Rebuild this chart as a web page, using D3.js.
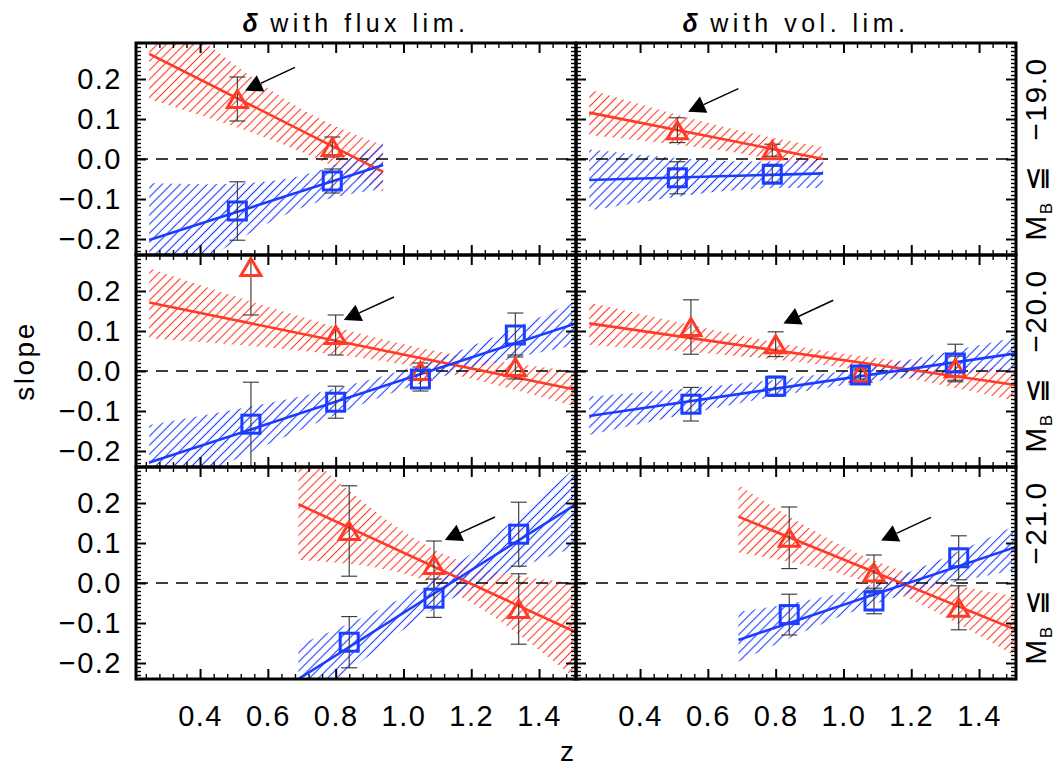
<!DOCTYPE html>
<html><head><meta charset="utf-8">
<script src="https://cdn.jsdelivr.net/npm/d3@7"></script>
<style>body{margin:0;background:#fff}svg{display:block}</style>
</head><body>
<svg id="c" width="1058" height="766"></svg>
<script>
// ---------------- data ----------------
const zDomain = [0.211, 1.509];
const slopeDomain = [-0.24, 0.29];
const xTickValues = [0.4, 0.6, 0.8, 1.0, 1.2, 1.4];
const yTickValues = [-0.2, -0.1, 0.0, 0.1, 0.2];
const columnTitles = ["with flux lim.", "with vol. lim."];
const magLimits = ["\u221219.0", "\u221220.0", "\u221221.0"];
const xLabel = "z";
const yLabel = "slope";

const zBins = [[0.51, 0.79], [0.55, 0.80, 1.05, 1.33], [0.84, 1.09, 1.34]];
// flux-limited (left column)
const fluxRed     = [[0.15, 0.03], [0.26, 0.09, 0.0, 0.01], [0.13, 0.045, -0.065]];
const fluxRedErr  = [[0.055, 0.025], [0.12, 0.05, 0.02, 0.03], [0.113, 0.06, 0.088]];
const fluxBlue    = [[-0.13, -0.055], [-0.133, -0.078, -0.02, 0.09], [-0.148, -0.038, 0.122]];
const fluxBlueErr = [[0.073, 0.03], [0.105, 0.04, 0.03, 0.055], [0.064, 0.048, 0.08]];
// volume-limited (right column)
const volRed      = [[0.072, 0.022], [0.11, 0.067, -0.005, 0.007], [0.113, 0.026, -0.062]];
const volRedErr   = [[0.031, 0.015], [0.068, 0.031, 0.015, 0.03], [0.077, 0.044, 0.055]];
const volBlue     = [[-0.047, -0.038], [-0.083, -0.038, -0.01, 0.02], [-0.079, -0.045, 0.063]];
const volBlueErr  = [[0.04, 0.02], [0.042, 0.025, 0.015, 0.047], [0.051, 0.032, 0.055]];

// linear fits (end points)
const fitZ = [[0.25, 0.94], [0.25, 1.509], [0.69, 1.509]];
const fluxRedFit  = [[0.263, -0.032], [0.171, -0.047], [0.197, -0.123]];
const fluxBlueFit = [[-0.2025, -0.015], [-0.229, 0.119], [-0.24, 0.197]];
const volRedFit   = [[0.116, 0.0], [0.119, -0.035], [0.166, -0.117]];
const volBlueFit  = [[-0.0525, -0.036], [-0.1125, 0.044], [-0.1425, 0.09]];

// confidence bands
const bandZ = [[0.25, 0.65, 0.94], [0.25, 0.95, 1.509], [0.69, 1.1, 1.509]];
const fluxRedHi  = [[0.40, 0.15, 0.035], [0.257, 0.077, 0.0], [0.34, 0.08, 0.0]];
const fluxRedLo  = [[0.15, 0.035, -0.082], [0.082, 0.023, -0.09], [0.0575, -0.006, -0.24]];
const fluxBlueHi = [[-0.06, -0.05, 0.042], [-0.135, -0.01, 0.175], [-0.155, 0.015, 0.29]];
const fluxBlueLo = [[-0.345, -0.14, -0.075], [-0.323, -0.06, 0.065], [-0.33, -0.06, 0.09]];
const volRedHi   = [[0.174, 0.08, 0.03], [0.171, 0.05, 0.005], [0.245, 0.053, -0.034]];
const volRedLo   = [[0.06, 0.02, -0.028], [0.065, 0.014, -0.075], [0.076, -0.007, -0.184]];
const volBlueHi  = [[0.024, -0.005, 0.0], [-0.064, -0.006, 0.085], [-0.0725, 0.0, 0.145]];
const volBlueLo  = [[-0.129, -0.08, -0.073], [-0.16, -0.042, 0.0025], [-0.197, -0.05, 0.0325]];

// arrows (z, slope) per [row][col]
const arrowTip  = [[[0.533, 0.171], [0.542, 0.118]], [[0.824, 0.1275], [0.823, 0.119]], [[1.122, 0.1075], [1.111, 0.106]]];
const arrowTail = [[[0.680, 0.229], [0.690, 0.176]], [[0.972, 0.185], [0.970, 0.177]], [[1.270, 0.165], [1.258, 0.164]]];

// ---------------- layout / style ----------------
const RED = "#ff3a26", BLUE = "#1c3cff";
const FONT = "'Liberation Sans', Arial, Helvetica, sans-serif";
const colLeft = [136, 576], rowTop = [43, 255, 467], PW = 440, PH = 212;

const svg = d3.select("#c");
const defs = svg.append("defs");
[["hatchR", RED], ["hatchB", BLUE]].forEach(([id, col]) => {
  const p = defs.append("pattern").attr("id", id).attr("patternUnits", "userSpaceOnUse")
    .attr("width", 6.4).attr("height", 6.4).attr("patternTransform", "rotate(45)");
  p.append("line").attr("x1", 3.2).attr("x2", 3.2).attr("y1", -1).attr("y2", 8)
    .attr("stroke", col).attr("stroke-width", 1.1);
});

const x = d3.scaleLinear().domain(zDomain).range([0, PW]);
const y = d3.scaleLinear().domain(slopeDomain).range([PH, 0]);

const xMinor = d3.range(6, 38).filter(i => i % 5 !== 0).map(i => i * 0.04);
const yMinor = d3.range(-24, 30).filter(i => i % 10 !== 0).map(i => i / 100);

const cols = [
  {red: fluxRed, redErr: fluxRedErr, blue: fluxBlue, blueErr: fluxBlueErr,
   redFit: fluxRedFit, blueFit: fluxBlueFit, redHi: fluxRedHi, redLo: fluxRedLo, blueHi: fluxBlueHi, blueLo: fluxBlueLo},
  {red: volRed, redErr: volRedErr, blue: volBlue, blueErr: volBlueErr,
   redFit: volRedFit, blueFit: volBlueFit, redHi: volRedHi, redLo: volRedLo, blueHi: volBlueHi, blueLo: volBlueLo}
];

const area = d3.area().x(d => x(d.z)).y0(d => y(d.lo)).y1(d => y(d.hi)).curve(d3.curveNatural);
const line = d3.line().x(d => x(d.z)).y(d => y(d.v));

for (let r = 0; r < 3; r++) {
  for (let c = 0; c < 2; c++) {
    const S = cols[c];
    const g = svg.append("g").attr("transform", `translate(${colLeft[c]},${rowTop[r]})`);
    const cid = `clip${r}${c}`;
    defs.append("clipPath").attr("id", cid).append("rect").attr("width", PW).attr("height", PH);
    const p = g.append("g").attr("clip-path", `url(#${cid})`);

    // bands
    const mk = (hi, lo) => bandZ[r].map((z, i) => ({z, hi: hi[r][i], lo: lo[r][i]}));
    p.append("path").datum(mk(S.redHi, S.redLo)).attr("d", area).attr("fill", "url(#hatchR)");
    p.append("path").datum(mk(S.blueHi, S.blueLo)).attr("d", area).attr("fill", "url(#hatchB)");

    // zero line
    p.append("line").attr("x1", 0).attr("x2", PW).attr("y1", y(0)).attr("y2", y(0))
      .attr("stroke", "#000").attr("stroke-width", 1.4).attr("stroke-dasharray", "12,8");

    // fit lines
    const fitPts = f => fitZ[r].map((z, i) => ({z, v: f[r][i]}));
    p.append("path").datum(fitPts(S.redFit)).attr("d", line).attr("fill", "none").attr("stroke", RED).attr("stroke-width", 2.6);
    p.append("path").datum(fitPts(S.blueFit)).attr("d", line).attr("fill", "none").attr("stroke", BLUE).attr("stroke-width", 2.6);

    // error bars
    const drawErr = (vals, errs) => {
      zBins[r].forEach((z, i) => {
        const v = vals[r][i], e = errs[r][i], cx = x(z);
        const eg = p.append("g").attr("stroke", "#333").attr("stroke-width", 1.1);
        eg.append("line").attr("x1", cx).attr("x2", cx).attr("y1", y(v + e)).attr("y2", y(v - e));
        eg.append("line").attr("x1", cx - 8).attr("x2", cx + 8).attr("y1", y(v + e)).attr("y2", y(v + e));
        eg.append("line").attr("x1", cx - 8).attr("x2", cx + 8).attr("y1", y(v - e)).attr("y2", y(v - e));
      });
    };
    drawErr(S.red, S.redErr);
    drawErr(S.blue, S.blueErr);

    // markers
    zBins[r].forEach((z, i) => {
      p.append("path").attr("transform", `translate(${x(z)},${y(S.red[r][i])})`)
        .attr("d", "M-10,8.5L0,-8.5L10,8.5Z").attr("fill", "none").attr("stroke", RED)
        .attr("stroke-width", 3).attr("stroke-linejoin", "miter");
      p.append("rect").attr("x", x(z) - 9).attr("y", y(S.blue[r][i]) - 9).attr("width", 18).attr("height", 18)
        .attr("fill", "none").attr("stroke", BLUE).attr("stroke-width", 3);
    });

    // arrow
    {
      const [tz, tv] = arrowTip[r][c], [sz, sv] = arrowTail[r][c];
      const hx = x(tz), hy = y(tv), sx = x(sz), sy = y(sv);
      const len = Math.hypot(hx - sx, hy - sy);
      const ux = (hx - sx) / len, uy = (hy - sy) / len, nx = -uy, ny = ux;
      const L = 17, Wd = 9;
      const bx = hx - ux * L, by = hy - uy * L;
      p.append("line").attr("x1", sx).attr("y1", sy).attr("x2", bx).attr("y2", by)
        .attr("stroke", "#000").attr("stroke-width", 1.5);
      p.append("path").attr("d", `M${hx},${hy}L${bx + nx * Wd},${by + ny * Wd}L${bx - nx * Wd},${by - ny * Wd}Z`)
        .attr("fill", "#000");
    }

    // axes
    const styleAx = (sel, major) => {
      sel.select(".domain").remove();
      sel.selectAll("line").attr("stroke", "#000").attr("stroke-width", major ? 2 : 1.4);
      sel.selectAll("text").attr("font-family", FONT).attr("font-size", 29).attr("fill", "#000")
        .attr("letter-spacing", 1.5);
    };
    const fmtY = d3.format(".1f");
    const bottomMajor = d3.axisBottom(x).tickValues(xTickValues).tickSize(-10).tickPadding(26)
      .tickFormat(r === 2 ? d3.format(".1f") : "");
    styleAx(g.append("g").attr("transform", `translate(0,${PH})`).call(bottomMajor), true);
    styleAx(g.append("g").attr("transform", `translate(0,${PH})`).call(d3.axisBottom(x).tickValues(xMinor).tickSize(-5).tickFormat("")), false);
    styleAx(g.append("g").call(d3.axisTop(x).tickValues(xTickValues).tickSize(-10).tickFormat("")), true);
    styleAx(g.append("g").call(d3.axisTop(x).tickValues(xMinor).tickSize(-5).tickFormat("")), false);
    const leftMajor = d3.axisLeft(y).tickValues(yTickValues).tickSize(-10).tickPadding(14)
      .tickFormat(c === 0 ? fmtY : "");
    styleAx(g.append("g").call(leftMajor), true);
    styleAx(g.append("g").call(d3.axisLeft(y).tickValues(yMinor).tickSize(-5).tickFormat("")), false);
    styleAx(g.append("g").attr("transform", `translate(${PW},0)`).call(d3.axisRight(y).tickValues(yTickValues).tickSize(-10).tickFormat("")), true);
    styleAx(g.append("g").attr("transform", `translate(${PW},0)`).call(d3.axisRight(y).tickValues(yMinor).tickSize(-5).tickFormat("")), false);

    g.append("rect").attr("width", PW).attr("height", PH).attr("fill", "none")
      .attr("stroke", "#000").attr("stroke-width", 3);
  }
  // right-hand magnitude label
  const cy = rowTop[r] + PH / 2;
  const t = svg.append("text").attr("transform", `translate(1046,${cy}) rotate(-90)`)
    .attr("text-anchor", "middle").attr("font-family", FONT).attr("font-size", 30).attr("fill", "#000")
    .attr("letter-spacing", 1.5);
  t.append("tspan").text("M");
  t.append("tspan").attr("font-size", 17).attr("dy", 6).text("B");
  t.append("tspan").attr("dy", -6).attr("dx", 10).attr("font-family", "'DejaVu Sans', sans-serif").text("\u2266");
  t.append("tspan").attr("dx", 24).text(magLimits[r]);
}

// column titles
columnTitles.forEach((txt, c) => {
  const t = svg.append("text").attr("x", colLeft[c] + PW / 2).attr("y", 32).attr("text-anchor", "middle")
    .attr("font-family", FONT).attr("font-size", 25).attr("letter-spacing", 4.5).attr("fill", "#000");
  t.append("tspan").attr("font-weight", "bold").attr("font-style", "italic").text("\u03b4");
  t.append("tspan").attr("dx", 8).text(txt);
});

// axis titles
svg.append("text").attr("x", 567).attr("y", 761).attr("text-anchor", "middle")
  .attr("font-family", FONT).attr("font-size", 28).text(xLabel);
svg.append("text").attr("transform", "translate(34,361) rotate(-90)").attr("text-anchor", "middle")
  .attr("font-family", FONT).attr("font-size", 28).attr("letter-spacing", 2.5).text(yLabel);
</script>
</body></html>
